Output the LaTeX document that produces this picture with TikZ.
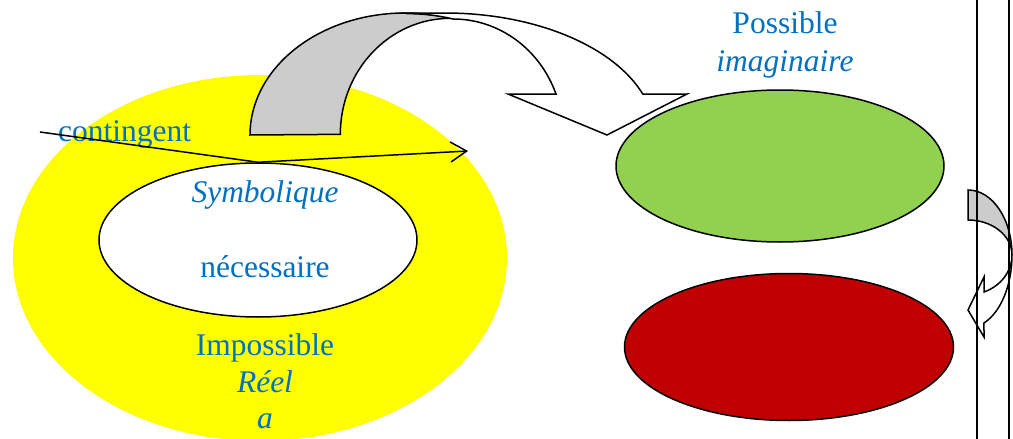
\documentclass[tikz,border=0pt]{standalone}
\usepackage{fontspec}
\setmainfont{Liberation Serif}
\usepackage{xcolor}
\definecolor{txtBlue}{RGB}{0,112,192}
\definecolor{okGreen}{RGB}{146,208,80}
\definecolor{darkRed}{RGB}{192,0,0}
\definecolor{arrGrey}{RGB}{204,204,204}
\definecolor{pureYellow}{RGB}{255,255,0}
\usetikzlibrary{arrows.meta, shapes.geometric}
\tikzset{
	blob/.style={ellipse, draw, line width=1.5pt, fill=#1, inner sep=0pt},
	lbl/.style={text=txtBlue, font=\fontsize{31.5}{37}\selectfont, anchor=base, inner sep=0pt},
	ilbl/.style={lbl, font=\fontsize{31.5}{37}\selectfont\itshape},
	bandarr/.style={draw, line width=1.5pt, fill=#1, line join=miter},
	contarr/.style={-{Straight Barb[length=16pt, width=20pt]}, line width=1.5pt},
}

\begin{document}
\begin{tikzpicture}[x=1pt, y=-1pt]
				\useasboundingbox (0,0) rectangle (1013,439);
				% left part
				\node[blob=pureYellow, draw=none, minimum width=494pt, minimum height=366pt] (reel) at (260,258) {};
				\node[blob=white, minimum width=318pt, minimum height=154pt] (sym) at (258,240) {};
				\node[lbl, anchor=base west] (cont) at (58,141) {contingent};
				\node[ilbl] (symb) at (265,202) {Symbolique};
				\node[lbl] (nec) at (265,277) {nécessaire};
				\node[lbl] (imp) at (265,355) {Impossible};
				\node[ilbl] (reeltxt) at (265,392) {Réel};
				\node[ilbl] (petita) at (265,428) {a};
				\coordinate (cstart) at (40,132);
				\coordinate (cend) at (468,151);
				\draw[contarr] (cstart) -- (sym.north) -- (cend);
				% big curved arrow
				\path[bandarr=arrGrey] (250,135) arc[start angle=180, end angle=287, x radius=155, y radius=122]
					arc[start angle=270, end angle=180, x radius=110, y radius=116] -- cycle;
				\path[bandarr=white] (405,13) -- (445,13) arc[start angle=270, end angle=340.4, x radius=210, y radius=122]
					-- (687,94) -- (607,135) -- (508,94) -- (556,94)
					arc[start angle=339.3, end angle=270, x radius=110, y radius=116]
					arc[start angle=287, end angle=270, x radius=155, y radius=122] -- cycle;
				% right part
				\node[blob=okGreen, minimum width=328pt, minimum height=152pt] (imag) at (780,166) {};
				\node[blob=darkRed, minimum width=329pt, minimum height=147pt] (rouge) at (789,347) {};
				\node[lbl] (poss) at (785,33) {Possible};
				\node[ilbl] (imagtxt) at (785,71) {imaginaire};
				% small curved arrow
				\path[bandarr=arrGrey] (968,190) arc[start angle=270, end angle=360, x radius=44, y radius=65]
					arc[start angle=0, end angle=-90, x radius=44, y radius=35] -- cycle;
				\path[bandarr=white] (1012,255) arc[start angle=0, end angle=68.7, x radius=44, y radius=73]
					-- (984,337) -- (968,310) -- (984,277) -- (984,292)
					arc[start angle=68.7, end angle=0, x radius=44, y radius=40] -- cycle;
				\draw[line width=1.5pt] (977,0) -- (977,439);
				\draw[line width=1.5pt] (1009,0) -- (1009,439);
			\end{tikzpicture}
\end{document}
